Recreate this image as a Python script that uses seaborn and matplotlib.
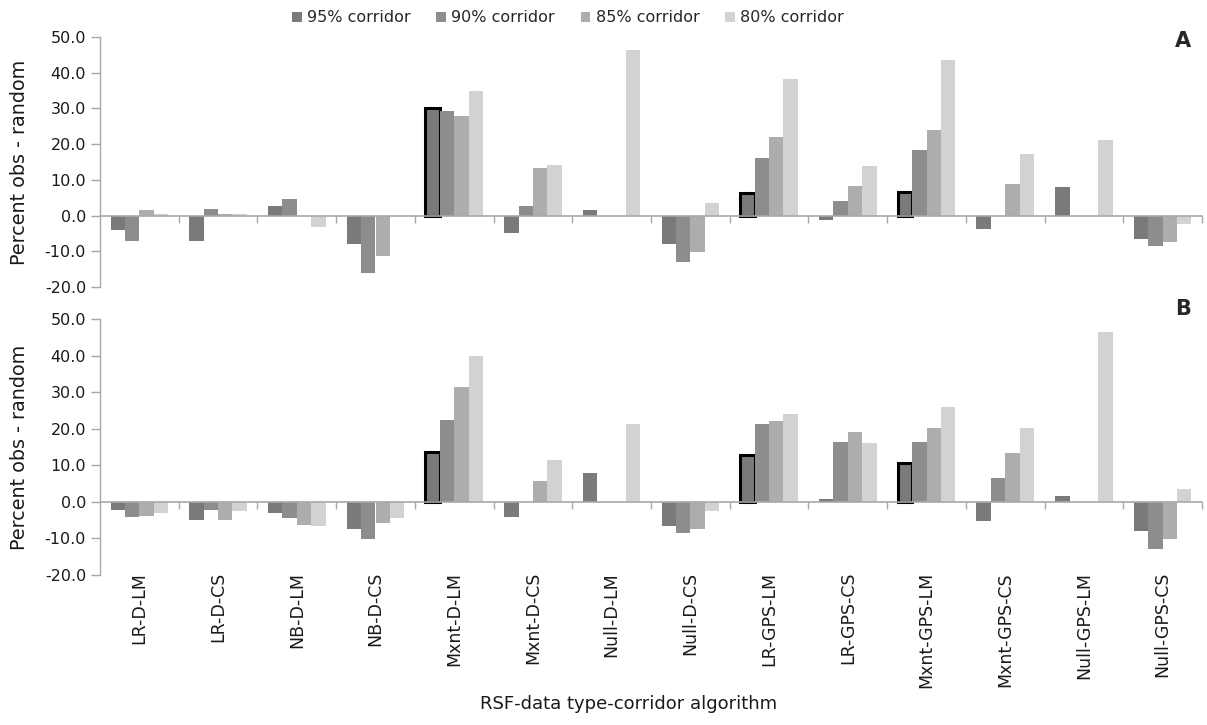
import numpy as np
import pandas as pd
import matplotlib
matplotlib.use("Agg")
import matplotlib.pyplot as plt
import seaborn as sns

categories = ['LR-D-LM', 'LR-D-CS', 'NB-D-LM', 'NB-D-CS', 'Mxnt-D-LM', 'Mxnt-D-CS',
              'Null-D-LM', 'Null-D-CS', 'LR-GPS-LM', 'LR-GPS-CS', 'Mxnt-GPS-LM',
              'Mxnt-GPS-CS', 'Null-GPS-LM', 'Null-GPS-CS']
series_names = ['95% corridor', '90% corridor', '85% corridor', '80% corridor']

A_95 = [-4.0, -7.0, 2.7, -8.0, 30.1, -5.0, 1.6, -8.0, 6.3, -1.2, 6.6, -3.7, 7.9, -6.6]
A_90 = [-7.0, 1.7, 4.6, -16.0, 29.2, 2.7, 0.0, -12.9, 16.2, 4.1, 18.3, 0.0, 0.0, -8.4]
A_85 = [1.5, 0.5, -0.1, -11.2, 28.0, 13.4, 0.0, -10.1, 22.0, 8.3, 24.1, 8.9, 0.0, -7.3]
A_80 = [0.5, 0.3, -3.3, -0.2, 34.8, 14.2, 46.3, 3.5, 38.3, 14.0, 43.5, 17.3, 21.3, -2.4]

B_95 = [-2.1, -4.9, -3.0, -7.3, 13.6, -4.2, 8.0, -6.6, 12.8, 0.9, 10.7, -5.1, 1.7, -7.9]
B_90 = [-4.2, -2.3, -4.3, -10.2, 22.5, 0.0, 0.0, -8.4, 21.2, 16.4, 16.4, 6.6, 0.0, -13.0]
B_85 = [-4.0, -4.9, -6.2, -5.7, 31.4, 5.8, 0.0, -7.4, 22.1, 19.2, 20.1, 13.4, 0.0, -10.2]
B_80 = [-3.1, -2.6, -6.5, -4.3, 40.0, 11.5, 21.2, -2.5, 24.0, 16.1, 26.0, 20.1, 46.4, 3.4]

highlight_idx = [4, 8, 10]  # 95% bars with black outline
yticks = [-20, -10, 0, 10, 20, 30, 40, 50]

sns.set_theme(style="white")
plt.rcParams['font.family'] = ['DejaVu Sans']

palette = ['#7a7a7a', '#8d8d8d', '#adadad', '#d2d2d2']
grey = '#a8a8a8'
txt = '#1a1a1a'


def make_df(s95, s90, s85, s80):
    rows = []
    for name, vals in zip(series_names, [s95, s90, s85, s80]):
        for c, v in zip(categories, vals):
            rows.append({'cat': c, 'val': v, 'corridor': name})
    return pd.DataFrame(rows)


W, H = 1207, 725
fig = plt.figure(figsize=(W / 100, H / 100), dpi=100)
axA = fig.add_axes([100 / W, 1 - 287 / H, 1102 / W, 250 / H])
axB = fig.add_axes([100 / W, 1 - 575 / H, 1102 / W, 256 / H])

for ax, data in [(axA, (A_95, A_90, A_85, A_80)), (axB, (B_95, B_90, B_85, B_80))]:
    df = make_df(*data)
    sns.barplot(data=df, x='cat', y='val', hue='corridor', order=categories,
                hue_order=series_names, palette=palette, saturation=1,
                width=0.73, gap=0, linewidth=0, ax=ax)
    for i in highlight_idx:
        bar = ax.containers[0][i]
        bar.set_edgecolor('black')
        bar.set_linewidth(2.2)
    ax.set_ylim(-20, 50)
    ax.set_xlim(-0.5, 13.5)
    ax.set_yticks(yticks)
    ax.set_yticklabels([f"{v:.1f}" for v in yticks], fontsize=11.5, color=txt)
    ax.tick_params(axis='y', which='major', direction='out', length=6.5, color=grey,
                   width=1, pad=3.5, left=True)
    for s in ['top', 'right']:
        ax.spines[s].set_visible(False)
    ax.spines['left'].set_color(grey)
    ax.spines['bottom'].set_color(grey)
    ax.spines['bottom'].set_position(('data', 0))
    ax.spines['left'].set_linewidth(1)
    ax.spines['bottom'].set_linewidth(1.2)
    ax.set_xticks(range(len(categories)))
    ax.set_xticklabels([])
    ax.set_xticks(np.arange(0.5, len(categories), 1), minor=True)
    ax.tick_params(axis='x', which='major', length=0, bottom=True)
    ax.tick_params(axis='x', which='minor', length=5, direction='out', color=grey,
                   width=1, bottom=True)
    ax.set_xlabel('')
    ax.set_ylabel('Percent obs - random', fontsize=13.8, color=txt)
    ax.yaxis.set_label_coords(-71 / 1102, 0.5)
    ax.grid(False)
    if ax.get_legend() is not None:
        ax.get_legend().remove()

fig.text(1183 / W, 1 - 41 / H, 'A', ha='center', va='center', fontsize=15, fontweight='bold')
fig.text(1183 / W, 1 - 309 / H, 'B', ha='center', va='center', fontsize=15, fontweight='bold')

# category labels below panel B
for i, c in enumerate(categories):
    axB.text(i, 0.012, c, transform=axB.get_xaxis_transform(), rotation=90,
             ha='center', va='top', fontsize=12.5, color=txt)

fig.text(629 / W, 1 - 709 / H, 'RSF-data type-corridor algorithm', ha='center',
         va='baseline', fontsize=13, color=txt)

handles = [c[0] for c in axA.containers]
fig.legend(handles, series_names, loc='center', ncol=4,
           bbox_to_anchor=(568 / W, 1 - 18 / H), frameon=False, fontsize=11.5,
           handlelength=0.6, handleheight=0.6, handletextpad=0.35, columnspacing=1.6)

fig.savefig('out.png', dpi=100, facecolor='white')
